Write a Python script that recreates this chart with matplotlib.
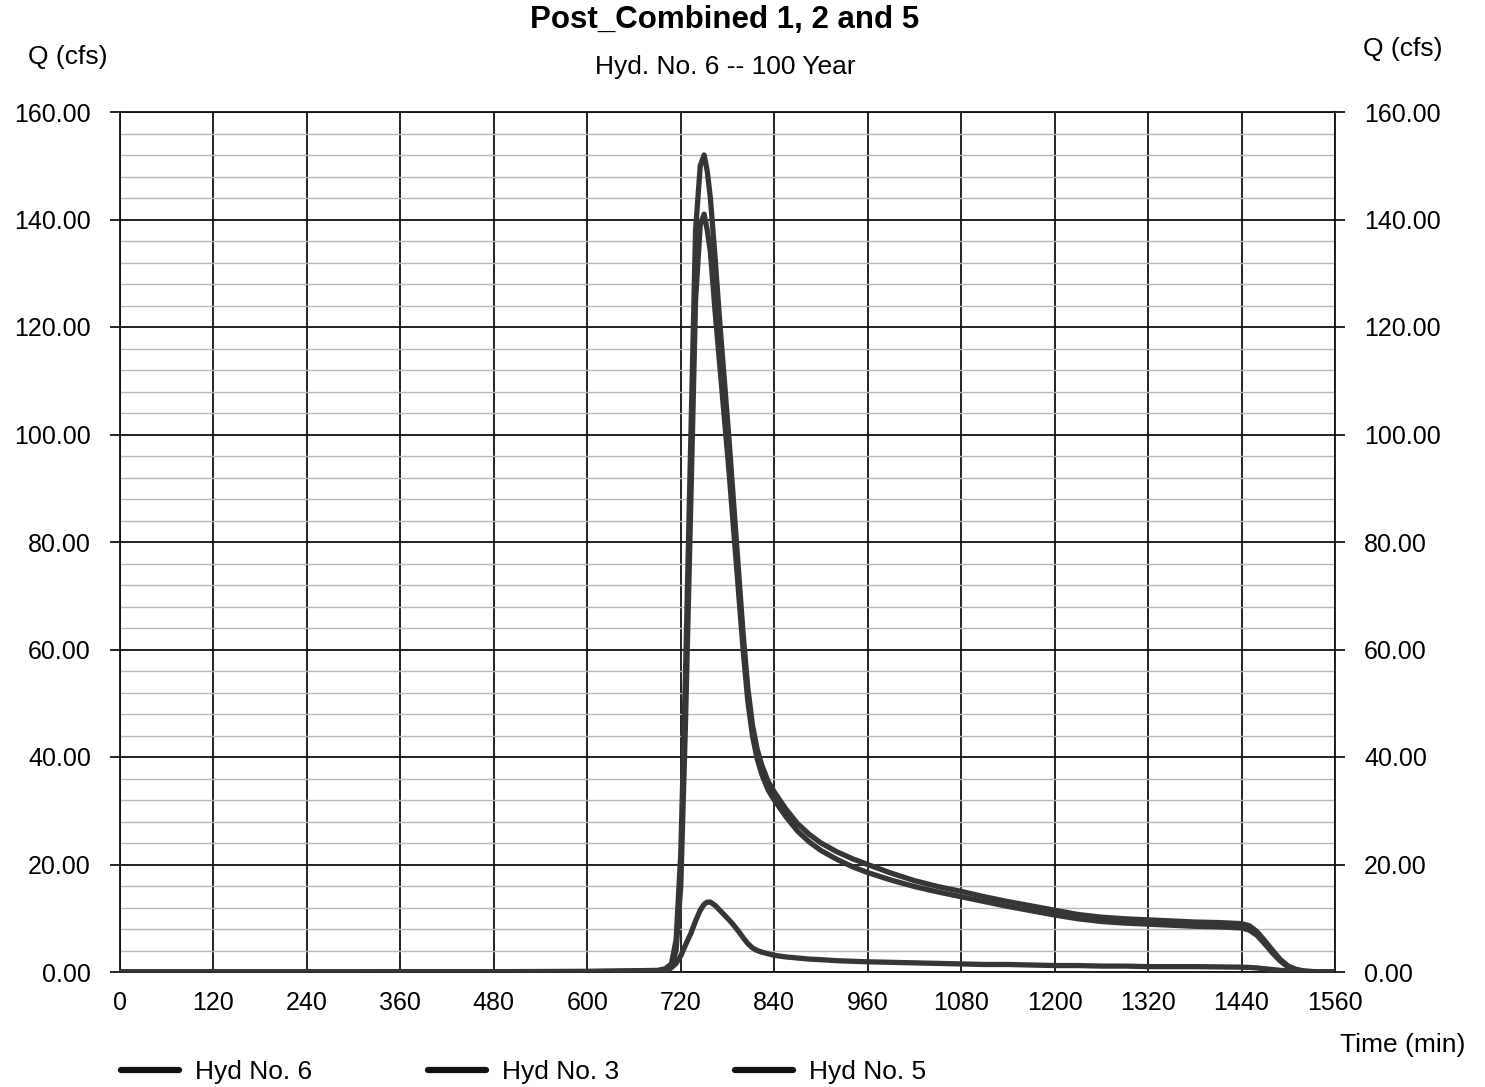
import matplotlib
matplotlib.use("Agg")
import matplotlib.pyplot as plt
from matplotlib.ticker import MultipleLocator, FixedLocator

plt.rcParams['font.family'] = ['Liberation Sans', 'DejaVu Sans']

title = "Post_Combined 1, 2 and 5"
subtitle = "Hyd. No. 6 -- 100 Year"
series_names = ["Hyd No. 6", "Hyd No. 3", "Hyd No. 5"]

time_min = [0, 300, 600, 690, 700, 708, 714, 720, 726, 733, 739, 745, 750, 754,
            758, 764, 770, 776, 782, 788, 794, 800, 806, 812, 818, 824, 832, 840, 855,
            870, 885, 900, 920, 940, 960, 990, 1020, 1050, 1080, 1110, 1140, 1170, 1200,
            1230, 1260, 1290, 1320, 1350, 1380, 1410, 1440, 1450, 1460, 1470, 1480, 1490,
            1500, 1510, 1520, 1535, 1560]

hyd6 = [0, 0, 0.1, 0.3, 0.6, 1.5, 6, 22, 55, 100, 138, 150, 152, 149,
        144, 133, 121, 110, 99, 87, 75, 63, 53, 46, 41.5, 38.5, 35.5, 33.5, 30.3,
        27.6, 25.6, 24.0, 22.4, 21.1, 20.0, 18.4, 17.0, 15.9, 15.0, 14.0, 13.1, 12.3, 11.5,
        10.7, 10.2, 9.9, 9.7, 9.5, 9.3, 9.2, 9.0, 8.6, 7.5, 5.8, 4.0, 2.3,
        1.1, 0.5, 0.2, 0.05, 0]

hyd3 = [0, 0, 0.1, 0.2, 0.4, 1.0, 4, 16, 46, 88, 125, 139, 141, 138,
        134, 123, 113, 103, 93, 82, 71, 60, 50.5, 44, 39.7, 36.8, 33.9, 32.0, 28.9,
        26.2, 24.2, 22.6, 21.0, 19.6, 18.5, 17.1, 15.9, 14.9, 14.0, 13.1, 12.2, 11.4, 10.6,
        9.9, 9.4, 9.1, 8.9, 8.7, 8.5, 8.4, 8.2, 7.8, 6.8, 5.2, 3.5, 2.0,
        0.9, 0.4, 0.15, 0.03, 0]

hyd5 = [0, 0, 0, 0, 0.1, 0.8, 1.6, 3.0, 5.0, 7.2, 9.5, 11.5, 12.6, 13,
        13, 12.4, 11.5, 10.6, 9.7, 8.7, 7.6, 6.4, 5.3, 4.5, 4.0, 3.7, 3.4, 3.1, 2.8,
        2.6, 2.4, 2.3, 2.1, 2.0, 1.9, 1.8, 1.7, 1.6, 1.5, 1.4, 1.4, 1.3, 1.2,
        1.2, 1.1, 1.1, 1.0, 1.0, 1.0, 0.95, 0.9, 0.85, 0.75, 0.6, 0.45, 0.3,
        0.2, 0.1, 0.05, 0.01, 0]

x_ticks = [0, 120, 240, 360, 480, 600, 720, 840, 960, 1080, 1200, 1320, 1440, 1560]
y_ticks = [0, 20, 40, 60, 80, 100, 120, 140, 160]
y_tick_labels = ["0.00", "20.00", "40.00", "60.00", "80.00", "100.00", "120.00", "140.00", "160.00"]

W, H = 1485, 1087
fig = plt.figure(figsize=(W / 100, H / 100), dpi=100)
ax = fig.add_axes([120 / W, 1 - 972 / H, (1335 - 120) / W, (972 - 112) / H])

line_color = "#363636"
for vals, name in zip([hyd6, hyd3, hyd5], series_names):
    ax.plot(time_min, vals, color=line_color, lw=3.8, solid_capstyle="round",
            solid_joinstyle="round", label=name, zorder=3)

ax.set_xlim(0, 1560)
ax.set_ylim(0, 160)
ax.xaxis.set_major_locator(FixedLocator(x_ticks))
ax.yaxis.set_major_locator(FixedLocator(y_ticks))
ax.yaxis.set_minor_locator(MultipleLocator(4))
ax.set_yticklabels(y_tick_labels)

ax.grid(True, which="major", axis="both", color="#111111", lw=1.3, zorder=1)
ax.grid(True, which="minor", axis="y", color="#b8b8b8", lw=1.0, zorder=0)
for s in ax.spines.values():
    s.set_color("#111111")
    s.set_linewidth(1.3)

ax.tick_params(axis="y", which="major", left=True, right=True, labelleft=True,
               labelright=True, length=7, width=1.2, labelsize=18, pad=14, direction="out")
ax.tick_params(axis="y", which="minor", left=False, right=False)
ax.tick_params(axis="x", which="major", bottom=False, length=0, labelsize=18, pad=14)

fig.text(725 / W, 1 - 20 / H, title, ha="center", va="center", fontsize=22.5, fontweight="bold")
fig.text(725 / W, 1 - 67 / H, subtitle, ha="center", va="center", fontsize=19)
fig.text(68 / W, 1 - 57 / H, "Q (cfs)", ha="center", va="center", fontsize=19)
fig.text(1403 / W, 1 - 49 / H, "Q (cfs)", ha="center", va="center", fontsize=19)
fig.text(1403 / W, 1 - 1045 / H, "Time (min)", ha="center", va="center", fontsize=19)

leg = fig.legend(loc="center left", bbox_to_anchor=(121 / W, 1 - 1072 / H), ncol=3,
                 frameon=False, fontsize=19, handlelength=2.2, handletextpad=0.6,
                 columnspacing=4.4, borderpad=0, borderaxespad=0)
for h in leg.get_lines():
    h.set_color("#111111")
    h.set_linewidth(4.5)

fig.savefig("out.png", dpi=100)
